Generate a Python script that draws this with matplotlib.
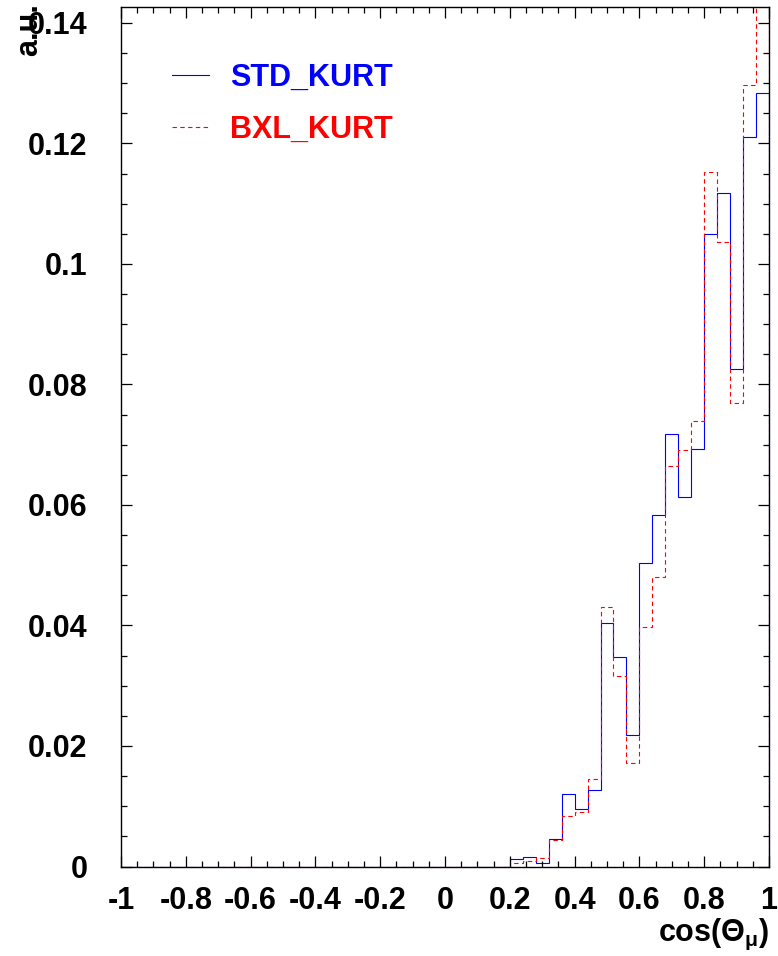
import numpy as np
import matplotlib
matplotlib.use("Agg")
import matplotlib.pyplot as plt
from matplotlib.ticker import MultipleLocator

# histogram content, 50 bins in cos(theta_mu) from -1 to 1
bin_edges = np.linspace(-1, 1, 51)
std_kurt = [0.0] * 30 + [0.0012, 0.0016, 0.0005, 0.0046, 0.0121, 0.0095, 0.0127,
                         0.0404, 0.0348, 0.0218, 0.0503, 0.0583, 0.0717, 0.0614,
                         0.0693, 0.1049, 0.1117, 0.0825, 0.1211, 0.1283]
bxl_kurt = [0.0] * 30 + [0.0005, 0.0009, 0.0014, 0.0044, 0.0083, 0.0090, 0.0145,
                         0.0430, 0.0316, 0.0172, 0.0398, 0.0481, 0.0664, 0.0691,
                         0.0739, 0.1153, 0.1037, 0.0769, 0.1297, 0.1460]

xticks = [-1, -0.8, -0.6, -0.4, -0.2, 0, 0.2, 0.4, 0.6, 0.8, 1]
xtick_labels = ["-1", "-0.8", "-0.6", "-0.4", "-0.2", "0", "0.2", "0.4", "0.6", "0.8", "1"]
yticks = [0, 0.02, 0.04, 0.06, 0.08, 0.10, 0.12, 0.14]
ytick_labels = ["0", "0.02", "0.04", "0.06", "0.08", "0.1", "0.12", "0.14"]

plt.rcParams['font.family'] = ['Liberation Sans', 'DejaVu Sans']
plt.rcParams['font.weight'] = 'bold'
plt.rcParams['axes.labelweight'] = 'bold'
plt.rcParams['mathtext.fontset'] = 'custom'
plt.rcParams['mathtext.rm'] = 'Liberation Sans:bold'
plt.rcParams['mathtext.it'] = 'Liberation Sans'
plt.rcParams['mathtext.bf'] = 'Liberation Sans:bold'

FS = 22

fig = plt.figure(figsize=(7.78, 9.56), dpi=100)
ax = fig.add_axes([121 / 778, 1 - 866.5 / 956, 648 / 778, 859.2 / 956])

ax.stairs(std_kurt, bin_edges, baseline=0, color="blue", lw=0.8, label="STD_KURT")
ax.stairs(bxl_kurt, bin_edges, baseline=0, color="red", lw=0.8,
          linestyle=(0, (4, 3)), label="BXL_KURT")

ax.set_xlim(-1, 1)
ax.set_ylim(0, 0.1426)

ax.set_xticks(xticks, xtick_labels)
ax.set_yticks(yticks, ytick_labels)
ax.xaxis.set_minor_locator(MultipleLocator(0.05))
ax.yaxis.set_minor_locator(MultipleLocator(0.005))
ax.tick_params(which='both', direction='in', top=True, right=True, width=0.9)
ax.tick_params(which='major', length=8)
ax.tick_params(which='minor', length=4)
ax.tick_params(axis='x', which='major', pad=14, labelsize=FS)
ax.tick_params(axis='y', which='major', pad=24, labelsize=FS)
for sp in ax.spines.values():
    sp.set_linewidth(1.0)

ax.set_xlabel(r"cos($\Theta_{\mathit{\mu}}$)", fontsize=FS, loc='right')
ax.xaxis.set_label_coords(1.0, -0.058)
ax.set_ylabel("a.u.", fontsize=FS, loc='top')
ax.yaxis.set_label_coords(-0.118, 1.005)

leg = ax.legend(loc='upper left', bbox_to_anchor=(0.079, 0.935), frameon=False,
                fontsize=FS, handlelength=1.2, handletextpad=0.68,
                labelspacing=0.72, borderpad=0, borderaxespad=0,
                labelcolor='linecolor')

fig.savefig("out.png", dpi=100)
